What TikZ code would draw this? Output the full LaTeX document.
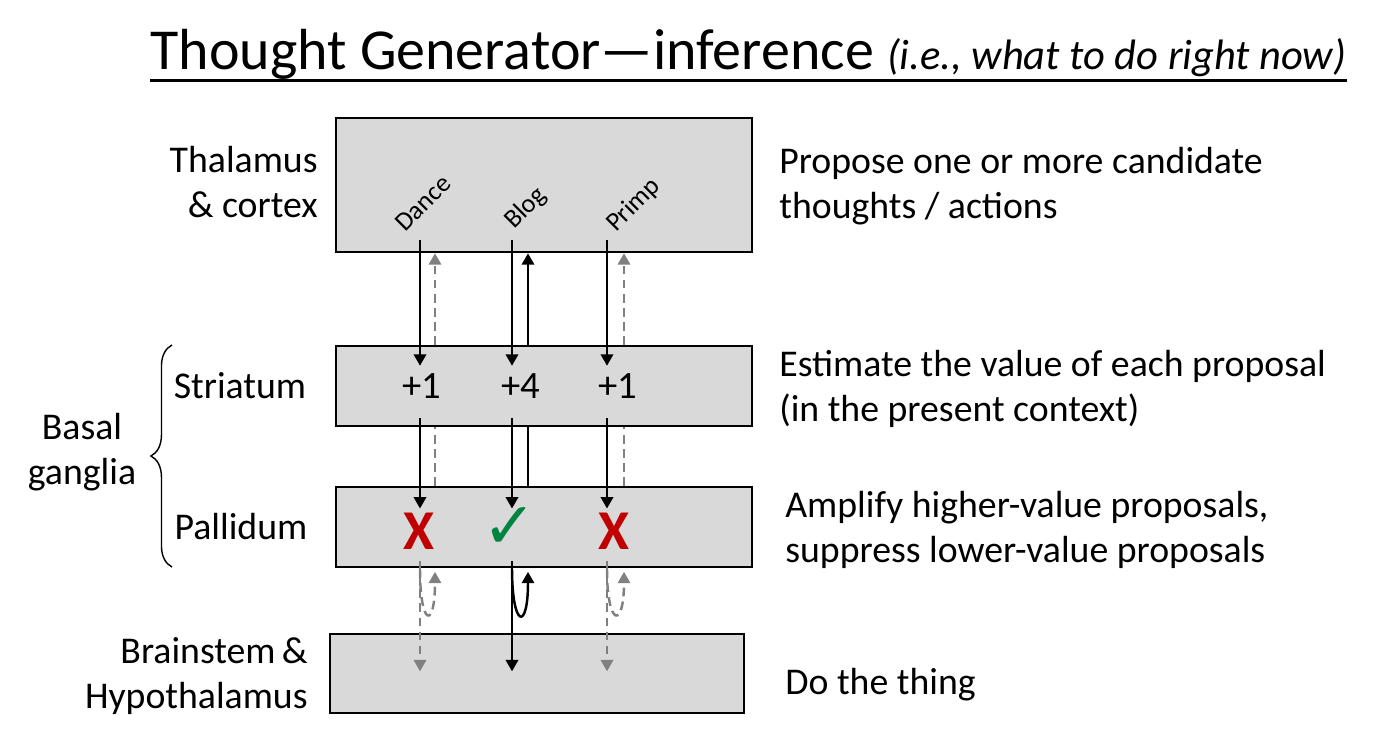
\documentclass[tikz,border=0pt]{standalone}
\usepackage{fontspec}
\setmainfont{Carlito}
\newfontfamily\symfont{DejaVu Sans}
\usetikzlibrary{arrows.meta,decorations.pathreplacing}
\definecolor{boxgray}{HTML}{D9D9D9}
\definecolor{nored}{HTML}{C00000}
\definecolor{okgreen}{HTML}{00843F}
\begin{document}
\begin{tikzpicture}[x=0.02cm,y=-0.02cm,
    area/.style={draw,line width=1.5pt,fill=boxgray,minimum width=8.32cm,minimum height=1.6cm,inner sep=0pt},
    sig/.style={line width=1.4pt,-{Triangle[length=6.5pt,width=7pt]}},
    weak/.style={sig,gray,dash pattern=on 5pt off 3pt},
    lbl/.style={font=\fontsize{21.5}{25.5}\selectfont,inner sep=0pt},
    cand/.style={font=\fontsize{15}{17}\selectfont,rotate=45,anchor=base west,inner sep=0pt}]
    \useasboundingbox (0,0) rectangle (1397,743);
    % title
    \node[anchor=base,inner sep=0pt] (title) at (748.5,70) {\fontsize{33}{38}\selectfont Thought Generator—inference {\fontsize{24.2}{28}\selectfont\itshape (i.e., what to do right now)}};
    \draw[line width=2pt] (title.south west) -- (title.south east);
    % boxes
    \node[area,minimum height=2.68cm] (thal) at (544,185) {};
    \node[area] (stri) at (544,386) {};
    \node[area] (pall) at (544,527) {};
    \node[area,minimum width=8.28cm,minimum height=1.58cm] (stem) at (537,673.5) {};
    % lanes
    \coordinate (dance) at (420,0);
    \coordinate (danceup) at (435,0);
    \coordinate (blog) at (512,0);
    \coordinate (blogup) at (528,0);
    \coordinate (primp) at (607,0);
    \coordinate (primpup) at (624,0);
    % candidates
    \node[cand] (dancelbl) at (405,233) {Dance};
    \node[cand] (bloglbl) at (514,230) {Blog};
    \node[cand] (primplbl) at (616,233) {Primp};
    \node[lbl] (v1) at (422,386) {\fontsize{22}{26}\selectfont +1};
    \node[lbl] (v2) at (521,386) {\fontsize{22}{26}\selectfont +4};
    \node[lbl] (v3) at (618,386) {\fontsize{22}{26}\selectfont +1};
    \node[text=nored,inner sep=0pt] (no1) at (419,531) {\fontsize{32}{36}\selectfont\bfseries X};
    \node[text=okgreen,inner sep=0pt] (ok) at (510,528) {\fontsize{37}{40}\selectfont\symfont ✓};
    \node[text=nored,inner sep=0pt] (no2) at (614,531) {\fontsize{32}{36}\selectfont\bfseries X};
    % thalamus <-> striatum
    \draw[sig] ([yshift=7.4pt]thal.south -| dance) -- ([yshift=-12pt]stri.north -| dance);
    \draw[sig] ([yshift=7.4pt]thal.south -| blog) -- ([yshift=-12pt]stri.north -| blog);
    \draw[sig] ([yshift=7.4pt]thal.south -| primp) -- ([yshift=-12pt]stri.north -| primp);
    \draw[weak] (stri.north -| danceup) -- (thal.south -| danceup);
    \draw[sig] (stri.north -| blogup) -- (thal.south -| blogup);
    \draw[weak] (stri.north -| primpup) -- (thal.south -| primpup);
    % striatum <-> pallidum
    \draw[sig] ([yshift=5.1pt]stri.south -| dance) -- ([yshift=-13pt]pall.north -| dance);
    \draw[sig] ([yshift=5.1pt]stri.south -| blog) -- ([yshift=-13pt]pall.north -| blog);
    \draw[sig] ([yshift=5.1pt]stri.south -| primp) -- ([yshift=-13pt]pall.north -| primp);
    \draw[gray,line width=1.4pt,dash pattern=on 5pt off 3pt] (pall.north -| danceup) -- (stri.south -| danceup);
    \draw[line width=1.4pt] (pall.north -| blogup) -- (stri.south -| blogup);
    \draw[gray,line width=1.4pt,dash pattern=on 5pt off 3pt] (pall.north -| primpup) -- (stri.south -| primpup);
    % pallidum -> brainstem
    \draw[weak] ([yshift=4pt]pall.south -| dance) -- ([yshift=-22pt]stem.north -| dance);
    \draw[sig] ([yshift=4pt]pall.south -| blog) -- ([yshift=-22pt]stem.north -| blog);
    \draw[weak] ([yshift=4pt]pall.south -| primp) -- ([yshift=-22pt]stem.north -| primp);
    \draw[weak] ([yshift=-0.5pt]pall.south -| dance) .. controls +(0,58) and +(0,58) .. ([yshift=-2pt]pall.south -| danceup);
    \draw[sig] (pall.south -| blog) .. controls +(0,60) and +(0,60) .. ([yshift=-2pt]pall.south -| blogup);
    \draw[weak] ([yshift=-0.5pt]pall.south -| primp) .. controls +(0,58) and +(0,58) .. ([yshift=-2pt]pall.south -| primpup);
    % left labels
    \node[lbl,anchor=east,align=right] (thallbl) at (318,182) {Thalamus\\\& cortex};
    \node[lbl] (strilbl) at (240,386) {Striatum};
    \node[lbl] (palllbl) at (241,527) {Pallidum};
    \node[lbl,anchor=east,align=right] (stemlbl) at (308,676) {Brainstem\,\&\\Hypothalamus};
    \node[lbl,align=center] (bglbl) at (82,452) {Basal\\ganglia};
    \draw[line width=0.8pt,decorate,decoration={brace,amplitude=12pt}] (172,567) -- (172,345);
    % right labels
    \node[lbl,anchor=west,align=left] (propose) at (779,186) {Propose one or more candidate\\thoughts / actions};
    \node[lbl,anchor=west,align=left] (estimate) at (779,389) {Estimate the value of each proposal\\(in the present context)};
    \node[lbl,anchor=west,align=left] (amplify) at (785,530) {Amplify higher-value proposals,\\suppress lower-value proposals};
    \node[lbl,anchor=west] (dothing) at (785,685) {Do the thing};
\end{tikzpicture}
\end{document}
